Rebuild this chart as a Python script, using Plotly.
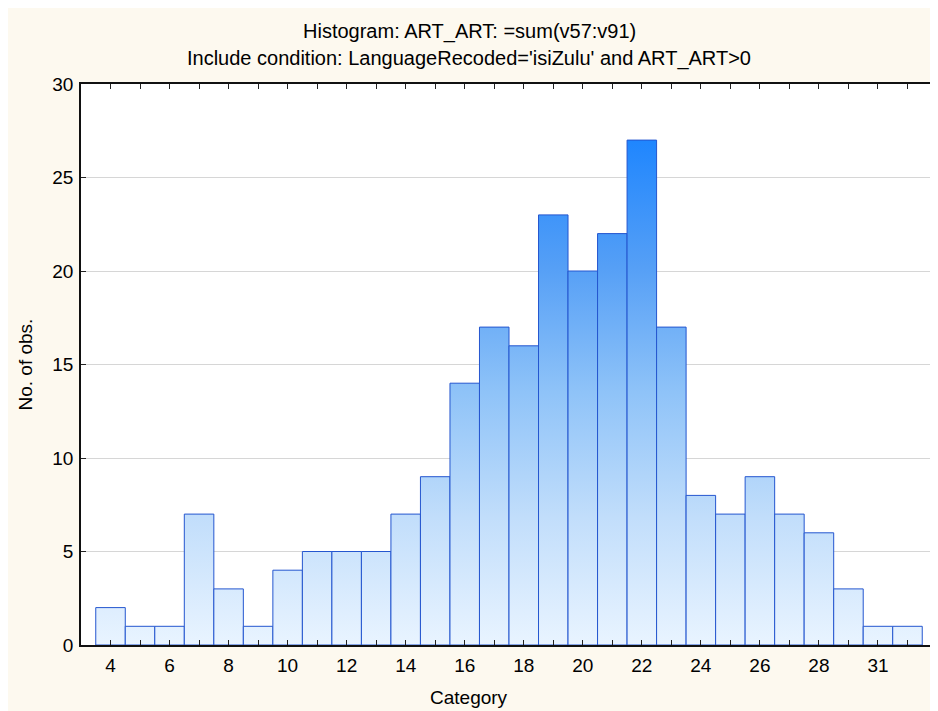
import plotly.graph_objects as go

# ---- data ----
categories = ["4", "5", "6", "7", "8", "9", "10", "11", "12", "13", "14", "15", "16", "17",
              "18", "19", "20", "21", "22", "23", "24", "25", "26", "27", "28", "30", "31", "32"]
counts = [2, 1, 1, 7, 3, 1, 4, 5, 5, 5, 7, 9, 14, 17,
          16, 23, 20, 22, 27, 17, 8, 7, 9, 7, 6, 3, 1, 1]
y_ticks = [0, 5, 10, 15, 20, 25, 30]

title_line1 = "Histogram: ART_ART: =sum(v57:v91)"
title_line2 = "Include condition: LanguageRecoded='isiZulu' and ART_ART>0"
x_title = "Category"
y_title = "No. of obs."

FONT = "Liberation Sans, Arial, sans-serif"
CREAM = "#fdf9ef"
gradient = [[0.0, "#e9f4ff"], [0.25, "#c2defb"], [0.5, "#8fc3f8"],
            [0.75, "#559ff6"], [1.0, "#1f86fe"]]

# figure geometry (pixels)
W, H = 938, 711
L, R, T, B = 73, 9, 76, 74
PW, PH = W - L - R, H - T - B

fig = go.Figure()
n = len(categories)
for i, v in enumerate(counts):
    fig.add_trace(go.Scatter(
        x=[i - 0.5, i - 0.5, i + 0.5, i + 0.5, i - 0.5],
        y=[0, v, v, 0, 0],
        mode="lines",
        fill="toself",
        fillgradient=dict(type="vertical", colorscale=gradient, start=0, stop=max(counts)),
        line=dict(color="#2456cf", width=1),
        name=categories[i],
        hoverinfo="text",
        text=f"{categories[i]}: {v}",
        showlegend=False,
    ))

ticktext = [c if i % 2 == 0 else "" for i, c in enumerate(categories)]

fig.update_layout(
    width=W, height=H,
    margin=dict(l=L, r=R, t=T, b=B),
    paper_bgcolor=CREAM,
    plot_bgcolor="white",
    font=dict(family=FONT, size=19, color="black"),
    xaxis=dict(
        range=[-1, n], tickmode="array", tickvals=list(range(n)), ticktext=ticktext,
        ticks="inside", ticklen=5, tickwidth=1, tickcolor="#222",
        showline=True, linecolor="#111", linewidth=1.5, mirror="ticks",
        showgrid=False, zeroline=False, ticklabelstandoff=2,
        tickfont=dict(size=19),
    ),
    yaxis=dict(
        range=[0, 30], tickmode="array", tickvals=y_ticks,
        ticks="inside", ticklen=5, tickwidth=1, tickcolor="#222",
        showline=True, linecolor="#111", linewidth=1.5,
        showgrid=True, gridcolor="#d6d6d6", gridwidth=1, zeroline=False,
        ticklabelstandoff=2,
        tickfont=dict(size=19),
    ),
    annotations=[
        dict(text=title_line1, xref="paper", yref="paper", x=(461 - L) / PW, y=(T + PH - 24) / PH,
             xanchor="center", yanchor="middle", showarrow=False, font=dict(size=20)),
        dict(text=title_line2, xref="paper", yref="paper", x=(461 - L) / PW, y=(T + PH - 51) / PH,
             xanchor="center", yanchor="middle", showarrow=False, font=dict(size=20)),
        dict(text=x_title, xref="paper", yref="paper", x=(461 - L) / PW, y=(T + PH - 689) / PH,
             xanchor="center", yanchor="middle", showarrow=False, font=dict(size=19)),
        dict(text=y_title, xref="paper", yref="paper", x=(17 - L) / PW, y=0.5, textangle=-90,
             xanchor="center", yanchor="middle", showarrow=False, font=dict(size=19)),
    ],
)

fig.write_html("out.html")
